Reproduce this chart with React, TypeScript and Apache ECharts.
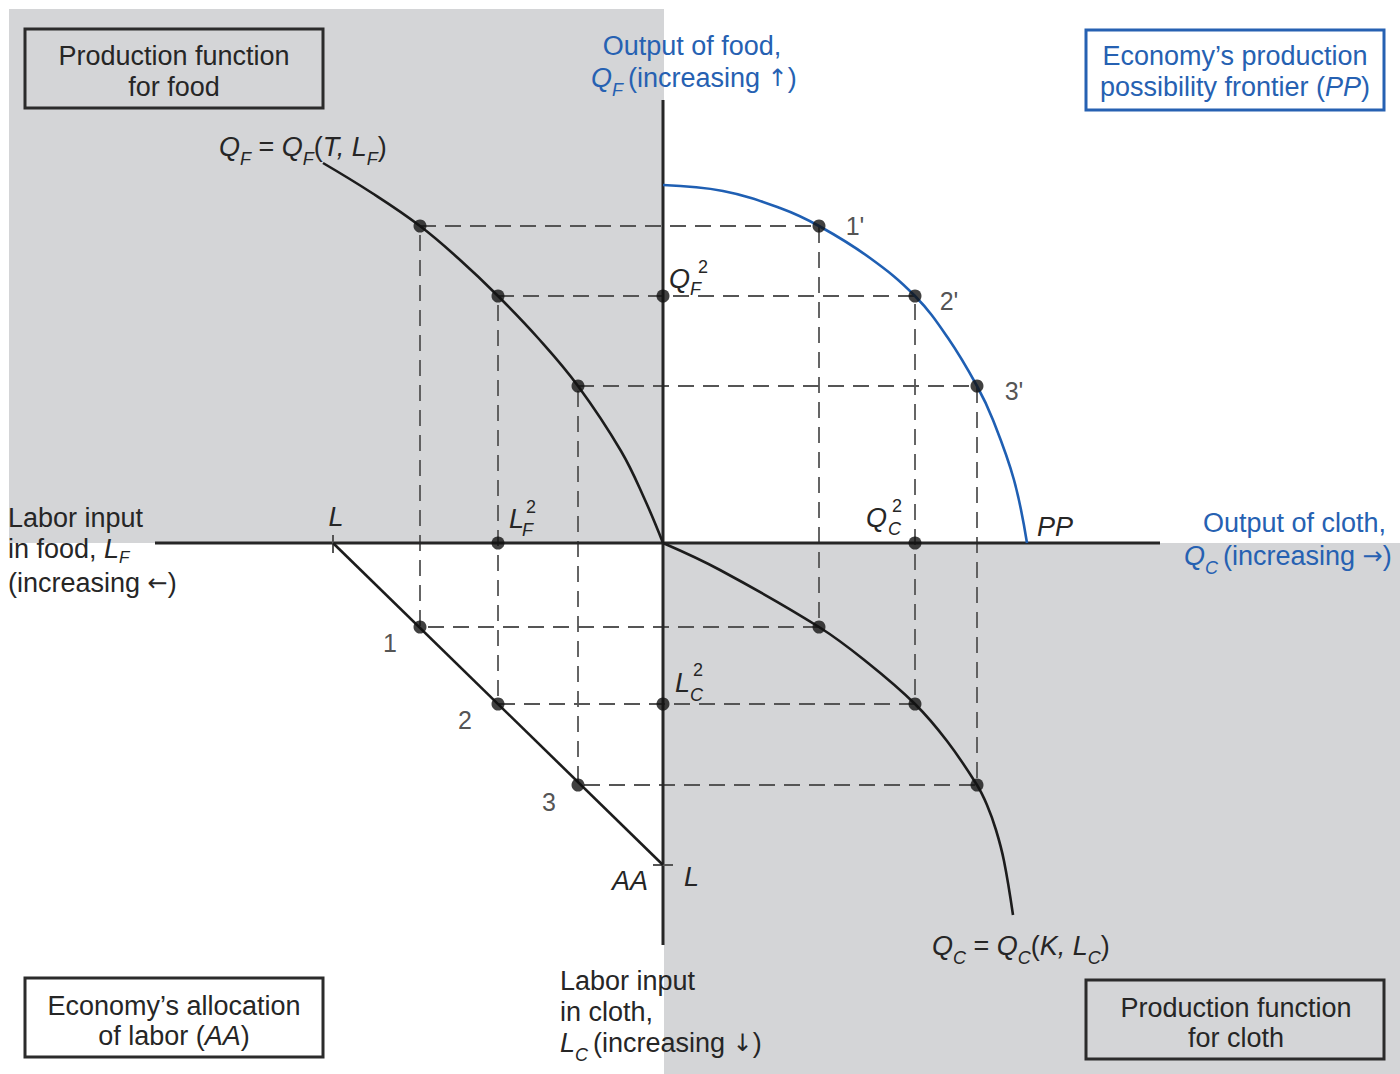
import React, { useEffect, useRef } from "react";
import * as echarts from "echarts";

// ---------------- data (diagram units; origin = crossing of the two axes) ----------------
const allocationLabels = ["1", "2", "3"];
const frontierLabels = ["1'", "2'", "3'"];
// labour in food (plotted leftwards) and in cloth (plotted downwards) at allocations 1,2,3
const laborFood = [243, 165, 85];
const laborCloth = [84, 161, 242];
// outputs at allocations 1,2,3
const foodOutput = [317, 247, 157];
const clothOutput = [156, 252, 314];
// total labour L on each labour axis
const totalLaborFoodAxis = 330;
const totalLaborClothAxis = 322;
// production function for food: Q_F against L_F
const foodFnLabor = [340, 291, 243, 204, 165, 125, 85, 42, 18, 0];
const foodFnOutput = [380, 350, 317, 284, 247, 205, 157, 92, 43, 0];
// production function for cloth: Q_C against L_C
const clothFnOutput = [0, 57, 156, 205, 252, 284, 314, 324, 333, 341, 350];
const clothFnLabor = [0, 27, 84, 120, 161, 198, 242, 262, 287, 318, 372];
// production possibility frontier: Q_F against Q_C
const ppCloth = [0, 60, 117, 156, 207, 252, 285, 314, 330, 351, 364];
const ppFood = [358, 352, 335, 317, 285, 247, 205, 157, 123, 63, 0];
// extent of the drawn axes
const axisLeft = 508;
const axisRight = 497;
const axisTop = 443;
const axisBottom = 402;

// ---------------- layout ----------------
const W = 1400;
const H = 1074;
const OX = 663;
const OY = 543;
const FONT = '"Liberation Sans", Arial, Helvetica, sans-serif';
const ARROW_FONT = '"DejaVu Sans", sans-serif';
const DARK = "#262626";
const BLUE = "#2661b2";
const GRAY = "#d4d5d7";
const FS = 27;

function rich(color: string) {
  return {
    n: { fontSize: FS, fontFamily: FONT, fill: color },
    i: { fontSize: FS, fontFamily: FONT, fontStyle: "italic", fill: color },
    a: { fontSize: FS - 3, fontFamily: ARROW_FONT, fill: color },
    s: { fontSize: 18, fontFamily: FONT, fontStyle: "italic", fill: color, padding: [24, 0, 0, 0] },
    t: { fontSize: 17, fontFamily: FONT, fontStyle: "italic", fill: color, padding: [16, 0, 0, 0] },
  };
}

function txt(x: number, y: number, text: string, o: any = {}) {
  const color = o.color || DARK;
  return {
    type: "text",
    x,
    y,
    z: 20,
    style: {
      text,
      fill: color,
      fontSize: o.size || FS,
      fontFamily: FONT,
      fontStyle: o.italic ? "italic" : "normal",
      align: o.align || "left",
      verticalAlign: "middle",
      rich: rich(color),
    },
  };
}

function box(x: number, y: number, w: number, h: number, stroke: string, fill: string) {
  return {
    type: "rect",
    z: 5,
    shape: { x, y, width: w, height: h },
    style: { fill, stroke, lineWidth: 3 },
  };
}

export default function App() {
  const ref = useRef<HTMLDivElement>(null);

  useEffect(() => {
    document.body.style.margin = "0";
    const chart = echarts.init(ref.current as HTMLDivElement, null, { renderer: "svg" });

    const foodCurve = foodFnLabor.map((l, i) => [-l, foodFnOutput[i]]);
    const clothCurve = clothFnOutput.map((q, i) => [q, -clothFnLabor[i]]);
    const ppCurve = ppCloth.map((q, i) => [q, ppFood[i]]);

    const dashedRects = laborFood.map((lf, i) => ({
      type: "line",
      data: [
        [-lf, foodOutput[i]],
        [clothOutput[i], foodOutput[i]],
        [clothOutput[i], -laborCloth[i]],
        [-lf, -laborCloth[i]],
        [-lf, foodOutput[i]],
      ],
      symbol: "none",
      silent: true,
      z: 2,
      lineStyle: { color: "#555555", width: 1.8, type: [16, 9] },
    }));

    const ppOffsets = [[36, 0], [34, 5], [37, 5]];
    const aaOffsets = [[-30, 16], [-33, 16], [-29, 17]];

    const labelStyle = { color: DARK, fontSize: 25, fontFamily: FONT };

    const ppPoints = clothOutput.map((qc, i) => ({
      value: [qc, foodOutput[i]],
      label: { show: true, formatter: frontierLabels[i], position: "inside", offset: ppOffsets[i], ...labelStyle },
    }));
    const aaPoints = laborFood.map((lf, i) => ({
      value: [-lf, -laborCloth[i]],
      label: { show: true, formatter: allocationLabels[i], position: "inside", offset: aaOffsets[i], ...labelStyle },
    }));
    const otherPoints = [
      ...laborFood.map((lf, i) => [-lf, foodOutput[i]]),
      ...clothOutput.map((qc, i) => [qc, -laborCloth[i]]),
      [0, foodOutput[1]],
      [-laborFood[1], 0],
      [clothOutput[1], 0],
      [0, -laborCloth[1]],
    ];

    const solid = { color: "#1c1c1c", width: 2.6 };
    const dot = { symbolSize: 13, itemStyle: { color: "#111" }, z: 6 };

    const option: any = {
      animation: false,
      grid: { left: 0, right: 0, top: 0, bottom: 0 },
      xAxis: { type: "value", min: -OX, max: W - OX, show: false },
      yAxis: { type: "value", min: -(H - OY), max: OY, show: false },
      graphic: [
        { type: "rect", z: 0, shape: { x: 9, y: 9, width: OX + 1 - 9, height: OY - 9 }, style: { fill: GRAY } },
        { type: "rect", z: 0, shape: { x: OX + 1, y: OY, width: W - OX - 1, height: H - OY }, style: { fill: GRAY } },
        box(25, 29, 298, 79, "#2b2b2b", "none"),
        box(1086, 30, 298, 80, BLUE, "#ffffff"),
        box(25, 978, 298, 79, "#2b2b2b", "#ffffff"),
        box(1086, 980, 298, 79, "#2b2b2b", GRAY),
        txt(174, 56, "Production function", { align: "center" }),
        txt(174, 87, "for food", { align: "center" }),
        txt(1235, 56, "Economy’s production", { align: "center", color: BLUE }),
        txt(1235, 87, "{n|possibility frontier (}{i|PP}{n|)}", { align: "center", color: BLUE }),
        txt(174, 1006, "Economy’s allocation", { align: "center" }),
        txt(174, 1036, "{n|of labor (}{i|AA}{n|)}", { align: "center" }),
        txt(1236, 1008, "Production function", { align: "center" }),
        txt(1236, 1038, "for cloth", { align: "center" }),
        // top axis title
        txt(692, 46, "Output of food,", { align: "center", color: BLUE }),
        txt(591, 78, "{i|Q}{s|F }{n|(increasing }{a|↑}{n|)}", { color: BLUE }),
        // right axis title
        txt(1386, 523, "Output of cloth,", { align: "right", color: BLUE }),
        txt(1184, 556, "{i|Q}{s|C }{n|(increasing }{a|→}{n|)}", { color: BLUE }),
        // left axis title
        txt(8, 518, "Labor input"),
        txt(8, 549, "{n|in food, }{i|L}{t|F}"),
        txt(8, 583, "{n|(increasing }{a|←}{n|)}"),
        // bottom axis title
        txt(560, 981, "Labor input"),
        txt(560, 1012, "in cloth,"),
        txt(560, 1043, "{i|L}{s|C }{n|(increasing }{a|↓}{n|)}"),
        // function labels
        txt(219, 147, "{i|Q}{s|F}{n| = }{i|Q}{s|F}{n|(}{i|T, L}{s|F}{n|)}"),
        txt(932, 946, "{i|Q}{s|C}{n| = }{i|Q}{s|C}{n|(}{i|K, L}{s|C}{n|)}"),
        // point labels on axes
        txt(669, 279, "Q", { italic: true }),
        txt(698, 267, "2", { size: 18 }),
        txt(690, 289, "F", { size: 18, italic: true }),
        txt(509, 519, "L", { italic: true }),
        txt(526, 507, "2", { size: 18 }),
        txt(522, 530, "F", { size: 18, italic: true }),
        txt(866, 518, "Q", { italic: true }),
        txt(892, 506, "2", { size: 18 }),
        txt(888, 529, "C", { size: 18, italic: true }),
        txt(675, 683, "L", { italic: true }),
        txt(693, 670, "2", { size: 18 }),
        txt(690, 695, "C", { size: 18, italic: true }),
        txt(1037, 527, "PP", { italic: true }),
        txt(336, 517, "L", { italic: true, align: "center" }),
        txt(612, 881, "AA", { italic: true }),
        txt(684, 877, "L", { italic: true }),
      ],
      series: [
        {
          type: "line",
          data: [[-axisLeft, 0], [axisRight, 0]],
          symbol: "none",
          silent: true,
          z: 3,
          lineStyle: { color: "#262626", width: 3 },
        },
        {
          type: "line",
          data: [[0, axisTop], [0, -axisBottom]],
          symbol: "none",
          silent: true,
          z: 3,
          lineStyle: { color: "#262626", width: 3 },
        },
        ...dashedRects,
        {
          type: "line",
          data: [[-totalLaborFoodAxis, 8], [-totalLaborFoodAxis, -10]],
          symbol: "none",
          silent: true,
          z: 3,
          lineStyle: { color: "#555", width: 2 },
        },
        {
          type: "line",
          data: [[-10, -totalLaborClothAxis], [10, -totalLaborClothAxis]],
          symbol: "none",
          silent: true,
          z: 3,
          lineStyle: { color: "#555", width: 2 },
        },
        {
          type: "line",
          data: [[-totalLaborFoodAxis, 0], [0, -totalLaborClothAxis]],
          symbol: "none",
          silent: true,
          z: 4,
          lineStyle: solid,
        },
        { type: "line", data: foodCurve, smooth: 0.4, symbol: "none", silent: true, z: 4, lineStyle: solid },
        { type: "line", data: clothCurve, smooth: 0.4, symbol: "none", silent: true, z: 4, lineStyle: solid },
        {
          type: "line",
          data: ppCurve,
          smooth: 0.4,
          symbol: "none",
          silent: true,
          z: 4,
          lineStyle: { color: "#1f5fb3", width: 2.6 },
        },
        { type: "scatter", data: ppPoints, ...dot },
        { type: "scatter", data: aaPoints, ...dot },
        { type: "scatter", data: otherPoints, ...dot },
      ],
    };

    chart.setOption(option);
    return () => chart.dispose();
  }, []);

  return <div ref={ref} style={{ width: W, height: H }} />;
}
